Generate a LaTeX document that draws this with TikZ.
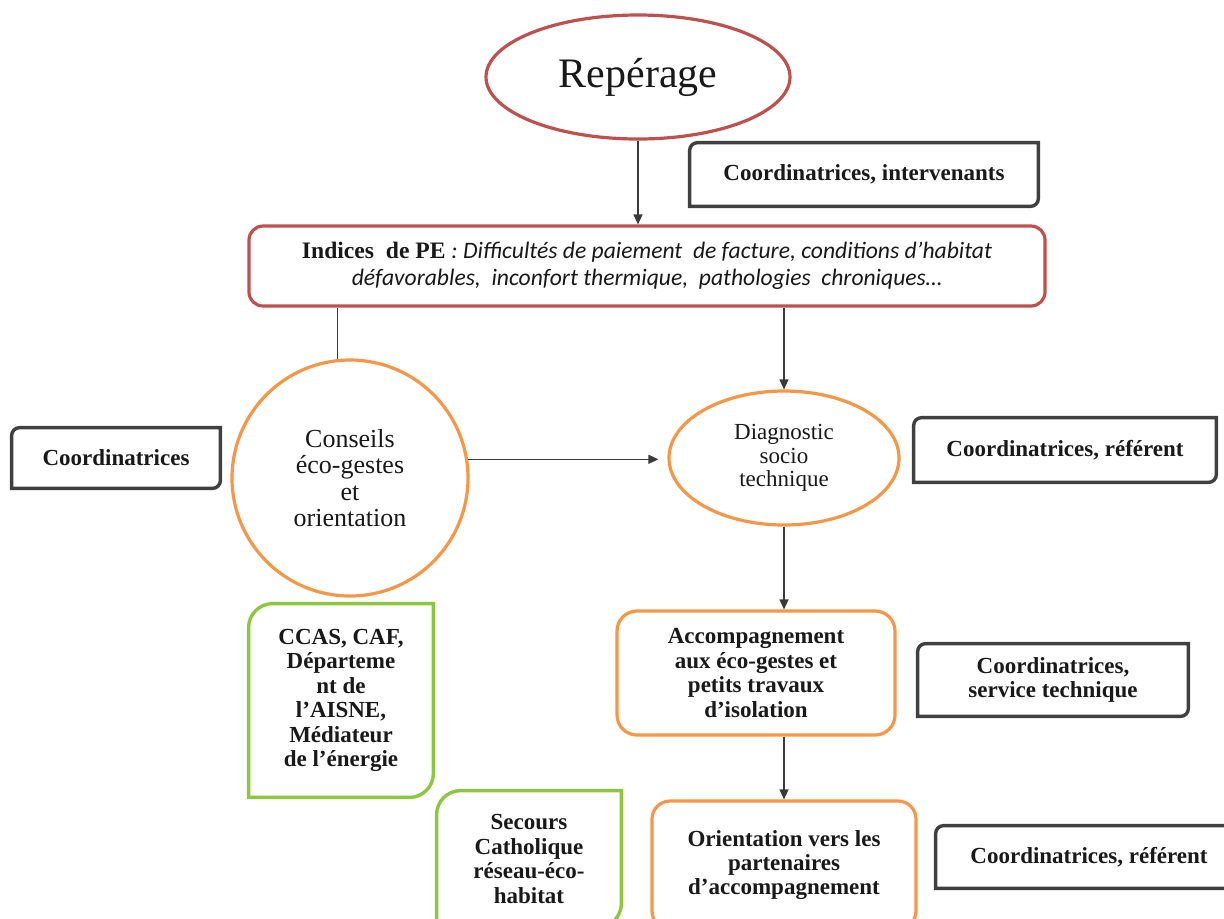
\documentclass[tikz,border=0pt]{standalone}
\usepackage{fontspec}
\setmainfont{Liberation Serif}
\newfontfamily\calibrifont{Carlito}
\usetikzlibrary{shapes.geometric,arrows.meta}
\definecolor{boxred}{HTML}{C0504D}
\definecolor{boxorange}{HTML}{F79646}
\definecolor{boxgreen}{HTML}{8DC63F}
\definecolor{framegray}{HTML}{404040}
\definecolor{linkgray}{HTML}{3A3A3A}
\tikzset{
  every node/.style={align=center, text=black!90, inner sep=0pt},
  boldtxt/.style={font=\fontsize{11.5}{12.2}\selectfont\bfseries},
  infobox/.style={boldtxt},
  partnerbox/.style={boldtxt},
  orangebox/.style={boldtxt, draw=boxorange, line width=1.6pt, rounded corners=9pt},
  link/.style={linkgray, line width=0.6pt, -{Triangle[length=5pt,width=4.5pt]}},
  plainlink/.style={linkgray, line width=0.6pt}
}

\begin{document}
\begin{tikzpicture}[x=0.5pt, y=-0.5pt]
  \useasboundingbox (0,0) rectangle (1224,918);
  % main chain
  \node[ellipse, draw=boxred, line width=1.6pt, minimum width=152pt, minimum height=62pt,
        font=\fontsize{21}{24}\selectfont] (rep) at (638,77) {Repérage};
  \node[draw=boxred, line width=1.6pt, rounded corners=7pt, minimum width=398pt, minimum height=40pt,
        font=\fontsize{11.8}{13.5}\selectfont] (ind) at (647,266)
    {{\bfseries Indices\ \ de PE} {\calibrifont\itshape : Difficultés de paiement\ \ de facture, conditions d’habitat}\\
     {\calibrifont\itshape défavorables,\ \ inconfort thermique,\ \ pathologies\ \ chroniques…}};
  \node[circle, draw=boxorange, line width=1.6pt, minimum size=118pt,
        font=\fontsize{13}{13.2}\selectfont] (cons) at (350,478) {Conseils\\éco-gestes\\et\\orientation};
  \node[ellipse, draw=boxorange, line width=1.6pt, minimum width=115pt, minimum height=67pt,
        font=\fontsize{11.5}{11.6}\selectfont] (diag) at (784,458) {Diagnostic\\socio\\technique};
  \node[orangebox, rounded corners=10pt, minimum width=139pt, minimum height=62pt] (acc) at (756,673)
    {Accompagnement\\aux éco-gestes et\\petits travaux\\d’isolation};
  \node[orangebox, minimum width=132pt, minimum height=64pt] (ori) at (784,865)
    {Orientation vers les\\partenaires\\d’accompagnement};

  % who does it
  \node[infobox, minimum width=174pt, minimum height=31.5pt] (intv) at (864,174.5) {Coordinatrices,\ intervenants};
  \node[infobox, minimum width=104pt, minimum height=30pt] (coordL) at (116,458) {Coordinatrices};
  \node[infobox, minimum width=151pt, minimum height=32pt] (coordR) at (1065,450) {Coordinatrices,\ référent};
  \node[infobox, minimum width=135pt, minimum height=36pt] (serv) at (1053,680) {Coordinatrices,\\service technique};
  \node[infobox, minimum width=153pt, minimum height=31pt] (coordB) at (1089,857) {Coordinatrices,\ référent};

  % partners
  \node[partnerbox, minimum width=92pt, minimum height=96.5pt] (ccas) at (341,700.5)
    {CCAS, CAF,\\Départeme\\nt de\\l’AISNE,\\Médiateur\\de l’énergie};
  \node[partnerbox, minimum width=92pt, minimum height=68pt] (secours) at (529,859)
    {Secours\\Catholique\\réseau-éco-\\habitat};

  % frames with two rounded corners
  \foreach \n/\c/\r in {intv/framegray/4pt, coordL/framegray/4pt, coordR/framegray/4pt,
                        serv/framegray/4pt, coordB/framegray/4pt,
                        ccas/boxgreen/12pt, secours/boxgreen/12pt}
    \draw[\c, line width=1.7pt] (\n.north) -- (\n.north east) [rounded corners=\r] -- (\n.south east)
      [sharp corners] -- (\n.south west) [rounded corners=\r] -- (\n.north west)
      [sharp corners] -- cycle;

  % connectors
  \draw[link] (rep.south) -- (rep.south |- ind.north);
  \draw[plainlink] (cons.96) -- (cons.96 |- ind.south);
  \draw[link] (diag.north |- ind.south) -- (diag.north);
  \draw[link, shorten >=4.5pt] (cons.9) -- (cons.9 -| diag.west);
  \draw[link] (diag.south) -- (diag.south |- acc.north);
  \draw[link] (ori.north |- acc.south) -- (ori.north);
\end{tikzpicture}
\end{document}
